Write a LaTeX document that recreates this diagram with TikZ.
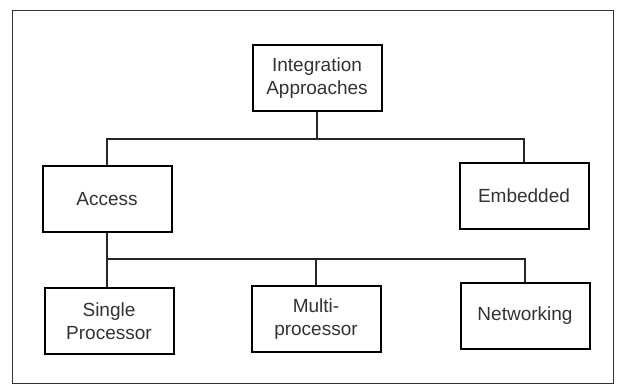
\documentclass[tikz,border=0pt]{standalone}
\usepackage{fontspec}
\setmainfont{Liberation Sans}
\begin{document}
\begin{tikzpicture}[x=1pt,y=-1pt,
  box/.style={draw=black, line width=2pt, fill=white, minimum width=129pt,
    minimum height=66pt, inner sep=0pt, align=center,
    font=\fontsize{19}{23}\selectfont, text=black!80},
  link/.style={draw=black!85, line width=1.2pt}]
\useasboundingbox (0,0) rectangle (621,387);
% outer frame
\draw[line width=1pt, black!80] (12,11) rectangle (613,383);
% boxes
\node[box] (top) at (317,78) {Integration\\Approaches};
\node[box] (access) at (107,199) {Access};
\node[box] (embedded) at (524,196) {Embedded};
\node[box] (single) at (109,321) {Single\\Processor};
\node[box] (multi) at (316,319) {Multi-\\processor};
\node[box] (networking) at (525,316) {Networking};
% bus lines
\coordinate (bus1) at (317,139);
\coordinate (bus2) at (317,259);
\draw[link] (top.south) -- (top.south |- bus1);
\draw[link] (access.north) -- (access.north |- bus1) -- (embedded.north |- bus1) -- (embedded.north);
\draw[link] (access.south) -- (access.south |- single.north);
\draw[link] (access.south |- bus2) -- (networking.north |- bus2) -- (networking.north);
\draw[link] (multi.north) -- (multi.north |- bus2);
\end{tikzpicture}
\end{document}
